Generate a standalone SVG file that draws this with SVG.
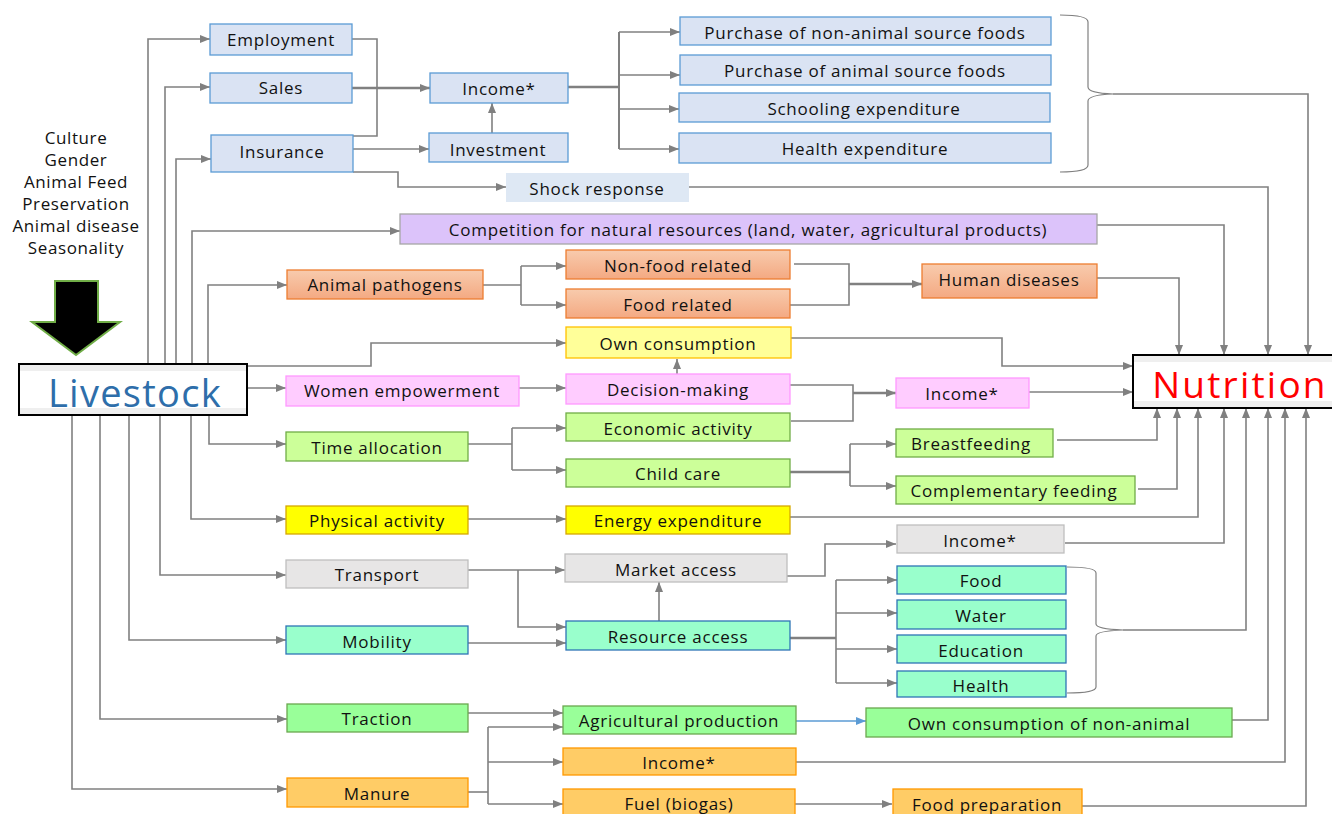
<svg xmlns="http://www.w3.org/2000/svg" width="1332" height="814" viewBox="0 0 1332 814">
<defs>
<marker id="ah" markerUnits="userSpaceOnUse" markerWidth="10" markerHeight="8" refX="10" refY="4" orient="auto"><path d="M0,0 L10,4 L0,8 z" fill="#808080"/></marker>
<marker id="ahb" markerUnits="userSpaceOnUse" markerWidth="10" markerHeight="8" refX="10" refY="4" orient="auto"><path d="M0,0 L10,4 L0,8 z" fill="#5B9BD5"/></marker>
<linearGradient id="salmon" x1="0" y1="0" x2="0" y2="1"><stop offset="0" stop-color="#F8CBAD"/><stop offset="1" stop-color="#F4A982"/></linearGradient>
</defs>
<style>
text{font-family:"Open Sans","Noto Sans","Liberation Sans",sans-serif;font-size:17px;letter-spacing:0.75px;fill:#111;text-anchor:middle}
.f{font-size:17px;letter-spacing:0.6px}
.c{fill:none;stroke:#808080;stroke-width:1.6}
.a{marker-end:url(#ah)}
.t{stroke-width:2.6}
.blue rect{fill:#DAE3F3;stroke:#5B9BD5;stroke-width:1.3}
.sal rect{fill:url(#salmon);stroke:#ED7D31;stroke-width:1.3}
.pink rect{fill:#FFCCFF;stroke:#FF99FF;stroke-width:1.3}
.lg rect{fill:#CCFF99;stroke:#70AD47;stroke-width:1.3}
.yel rect{fill:#FFFF00;stroke:#D6A800;stroke-width:1.3}
.gry rect{fill:#E7E6E6;stroke:#BFBFBF;stroke-width:1.3}
.aq rect{fill:#99FFCC;stroke:#2E75B6;stroke-width:1.3}
.gr rect{fill:#99FF99;stroke:#6AA84F;stroke-width:1.3}
.or rect{fill:#FFCC66;stroke:#FF9900;stroke-width:1.3}
.brace{fill:none;stroke:#808080;stroke-width:1.2}
</style>
<rect width="1332" height="814" fill="#ffffff"/>

<g id="factors">
<text class="f" x="76" y="144">Culture</text>
<text class="f" x="76" y="166">Gender</text>
<text class="f" x="76" y="188">Animal Feed</text>
<text class="f" x="76" y="210">Preservation</text>
<text class="f" x="76" y="232">Animal disease</text>
<text class="f" x="76" y="254">Seasonality</text>
</g>
<g id="bigarrow"><polygon points="55,281 98,281 98,322 120,322 76,355 32,322 55,322" fill="#000" stroke="#70AD47" stroke-width="2"/></g>

<g id="connectors">
<path class="c a" d="M148,364 V39 H210"/>
<path class="c a" d="M165,364 V87 H210"/>
<path class="c a" d="M176,364 V159 H211"/>
<path class="c a" d="M192,364 V231 H400"/>
<path class="c a" d="M208,364 V285 H287"/>
<path class="c a" d="M247,366 H371 V343 H566"/>
<path class="c a" d="M247,388 H286"/>
<path class="c a" d="M209,416 V444 H286"/>
<path class="c a" d="M191,416 V519 H286"/>
<path class="c a" d="M160,416 V575 H286"/>
<path class="c a" d="M129,416 V640 H286"/>
<path class="c a" d="M100,416 V719 H287"/>
<path class="c a" d="M72,416 V789 H287"/>

<path class="c" d="M352,39 H377 V136 H353"/>
<path class="c a t" d="M352,88 H430"/>
<path class="c a" d="M353,149 H429"/>
<path class="c a" d="M353,172 H398 V187 H506"/>
<path class="c a" d="M492,133 V103"/>
<path class="c t" d="M568,87 H619"/>
<path class="c" d="M619,32 V149" style="stroke-width:2"/>
<path class="c a" d="M619,32 H680"/>
<path class="c a" d="M619,75 H680"/>
<path class="c a" d="M619,109 H679"/>
<path class="c a" d="M619,149 H679"/>

<path class="brace" d="M1060,15 Q1088,15 1088,22 L1088,87 Q1088,93 1113,94 Q1088,95 1088,101 L1088,165 Q1088,172 1060,172"/>
<path class="c a" d="M1113,94 H1308 V355"/>
<path class="c a" d="M689,187 H1268 V355"/>
<path class="c a" d="M1097,225 H1224 V355"/>
<path class="c a" d="M1097,278 H1179 V355"/>

<path class="c" d="M483,285 H521"/>
<path class="c" d="M521,266 V305"/>
<path class="c a" d="M521,266 H566"/>
<path class="c a" d="M521,305 H566"/>
<path class="c" d="M794,264 H849 V305 H790"/>
<path class="c a t" d="M849,284 H922"/>

<path class="c a" d="M791,338 H1002 V366 H1133"/>
<path class="c a" d="M677,374 V359"/>
<path class="c a" d="M519,388 H566"/>
<path class="c" d="M790,385 H853 V421 H791"/>
<path class="c a t" d="M853,393 H896"/>
<path class="c a" d="M1029,392 H1133"/>

<path class="c" d="M468,444 H512"/>
<path class="c" d="M512,428 V470"/>
<path class="c a" d="M512,428 H566"/>
<path class="c a" d="M512,470 H566"/>
<path class="c t" d="M790,472 H850"/>
<path class="c" d="M850,444 V486"/>
<path class="c a" d="M850,444 H896"/>
<path class="c a" d="M850,486 H896"/>
<path class="c a" d="M1057,440 H1157 V408"/>
<path class="c a" d="M1138,489 H1177 V408"/>

<path class="c a" d="M468,519 H566"/>
<path class="c a" d="M790,517 H1198 V408"/>

<path class="c a" d="M468,570 H565"/>
<path class="c a" d="M518,570 V627 H566"/>
<path class="c a" d="M787,576 H825 V544 H896"/>
<path class="c a" d="M1065,543 H1224 V408"/>
<path class="c a" d="M659,621 V582"/>
<path class="c a" d="M468,643 H566"/>
<path class="c t" d="M790,638 H836"/>
<path class="c" d="M836,580 V683"/>
<path class="c a" d="M836,580 H897"/>
<path class="c a" d="M836,613 H897"/>
<path class="c a" d="M836,649 H897"/>
<path class="c a" d="M836,683 H897"/>
<path class="brace" d="M1067,567 Q1096,567 1096,573 L1096,624 Q1096,629 1123,630 Q1096,631 1096,636 L1096,687 Q1096,693 1067,693"/>
<path class="c a" d="M1123,630 H1246 V408"/>

<path class="c a" d="M468,713 H563"/>
<path d="M796,721 H866" fill="none" stroke="#5B9BD5" stroke-width="1.6" marker-end="url(#ahb)"/>
<path class="c a" d="M1232,720 H1268 V408"/>
<path class="c" d="M468,792 H488"/>
<path class="c" d="M488,727 V804"/>
<path class="c a" d="M488,727 H563"/>
<path class="c a" d="M488,762 H563"/>
<path class="c a" d="M488,804 H563"/>
<path class="c a" d="M796,762 H1285 V408"/>
<path class="c a" d="M795,804 H892"/>
<path class="c a" d="M1082,806 H1306 V408"/>
</g>

<g id="livestock">
<rect x="19" y="364" width="228" height="51" fill="#fff" stroke="#000" stroke-width="2"/>
<rect x="20" y="365" width="226" height="6" fill="#EFEFEF"/>
<rect x="20" y="408" width="226" height="6" fill="#EFEFEF"/>
<text x="135" y="407" style="font-size:38px;letter-spacing:1.3px;fill:#2E6EAA">Livestock</text>
</g>
<g id="nutrition">
<rect x="1133" y="355" width="210" height="53" fill="#fff" stroke="#000" stroke-width="2"/>
<rect x="1134" y="356" width="198" height="6" fill="#EFEFEF"/>
<rect x="1134" y="401" width="198" height="6" fill="#EFEFEF"/>
<text x="1240" y="398" style="font-size:37px;letter-spacing:2.2px;fill:#FF0000">Nutrition</text>
</g>

<g id="employment" class="blue"><rect x="210" y="24" width="142" height="31"/><text x="281" y="46">Employment</text></g>
<g id="sales" class="blue"><rect x="210" y="73" width="142" height="30"/><text x="281" y="94">Sales</text></g>
<g id="insurance" class="blue"><rect x="211" y="135" width="142" height="37"/><text x="282" y="158">Insurance</text></g>
<g id="income1" class="blue"><rect x="430" y="73" width="138" height="30"/><text x="499" y="95">Income*</text></g>
<g id="investment" class="blue"><rect x="429" y="133" width="139" height="29"/><text x="498" y="156">Investment</text></g>
<g id="shock"><rect x="506" y="173" width="183" height="29" fill="#DEE8F4"/><text x="597" y="195">Shock response</text></g>
<g id="purchase-non" class="blue"><rect x="680" y="17" width="371" height="28"/><text x="865" y="39">Purchase of non-animal source foods</text></g>
<g id="purchase-asf" class="blue"><rect x="680" y="55" width="371" height="30"/><text x="865" y="77">Purchase of animal source foods</text></g>
<g id="schooling" class="blue"><rect x="679" y="93" width="371" height="29"/><text x="864" y="115">Schooling expenditure</text></g>
<g id="health-exp" class="blue"><rect x="679" y="133" width="372" height="30"/><text x="865" y="155">Health expenditure</text></g>

<g id="competition"><rect x="400" y="214" width="697" height="30" fill="#DCC3FA" stroke="#A6A6A6" stroke-width="1.3"/><text x="748" y="236">Competition for natural resources (land, water, agricultural products)</text></g>

<g id="pathogens" class="sal"><rect x="287" y="270" width="196" height="29"/><text x="385" y="291">Animal pathogens</text></g>
<g id="nonfood" class="sal"><rect x="566" y="250" width="224" height="29"/><text x="678" y="272">Non-food related</text></g>
<g id="foodrel" class="sal"><rect x="566" y="289" width="224" height="29"/><text x="678" y="311">Food related</text></g>
<g id="human" class="sal"><rect x="922" y="264" width="175" height="34"/><text x="1009" y="286">Human diseases</text></g>

<g id="owncons"><rect x="566" y="327" width="225" height="31" fill="#FFFF99" stroke="#FFC000" stroke-width="1.3"/><text x="678" y="350">Own consumption</text></g>
<g id="women" class="pink"><rect x="286" y="376" width="233" height="30"/><text x="402" y="397">Women empowerment</text></g>
<g id="decision" class="pink"><rect x="566" y="374" width="224" height="30"/><text x="678" y="396">Decision-making</text></g>
<g id="income-pink" class="pink"><rect x="896" y="378" width="133" height="30"/><text x="962" y="400">Income*</text></g>

<g id="time" class="lg"><rect x="286" y="432" width="182" height="29"/><text x="377" y="454">Time allocation</text></g>
<g id="economic" class="lg"><rect x="566" y="413" width="224" height="28"/><text x="678" y="435">Economic activity</text></g>
<g id="childcare" class="lg"><rect x="566" y="459" width="224" height="28"/><text x="678" y="480">Child care</text></g>
<g id="breast" class="lg"><rect x="896" y="429" width="157" height="28"/><text x="971" y="450">Breastfeeding</text></g>
<g id="complementary" class="lg"><rect x="896" y="476" width="239" height="28"/><text x="1014" y="497">Complementary feeding</text></g>

<g id="physical" class="yel"><rect x="286" y="506" width="182" height="28"/><text x="377" y="527">Physical activity</text></g>
<g id="energy" class="yel"><rect x="566" y="506" width="224" height="28"/><text x="678" y="527">Energy expenditure</text></g>

<g id="transport" class="gry"><rect x="286" y="560" width="182" height="28"/><text x="377" y="581">Transport</text></g>
<g id="market" class="gry"><rect x="565" y="554" width="222" height="28"/><text x="676" y="576">Market access</text></g>
<g id="income-gray" class="gry"><rect x="897" y="525" width="167" height="28"/><text x="980" y="547">Income*</text></g>

<g id="mobility" class="aq"><rect x="286" y="626" width="182" height="28"/><text x="377" y="648">Mobility</text></g>
<g id="resource" class="aq"><rect x="566" y="621" width="224" height="29"/><text x="678" y="643">Resource access</text></g>
<g id="food" class="aq"><rect x="897" y="566" width="169" height="28"/><text x="981" y="587">Food</text></g>
<g id="water" class="aq"><rect x="897" y="600" width="169" height="29"/><text x="981" y="622">Water</text></g>
<g id="education" class="aq"><rect x="897" y="635" width="169" height="28"/><text x="981" y="657">Education</text></g>
<g id="health" class="aq"><rect x="897" y="671" width="169" height="26"/><text x="981" y="692">Health</text></g>

<g id="traction" class="gr"><rect x="287" y="704" width="181" height="28"/><text x="377" y="725">Traction</text></g>
<g id="agri" class="gr"><rect x="563" y="706" width="233" height="28"/><text x="679" y="727">Agricultural production</text></g>
<g id="own-nonanimal" class="gr"><rect x="866" y="708" width="366" height="29"/><text x="1049" y="730">Own consumption of non-animal</text></g>

<g id="manure" class="or"><rect x="287" y="778" width="181" height="29"/><text x="377" y="800">Manure</text></g>
<g id="income-orange" class="or"><rect x="563" y="748" width="233" height="27"/><text x="679" y="769">Income*</text></g>
<g id="fuel" class="or"><rect x="563" y="789" width="232" height="30"/><text x="679" y="810">Fuel (biogas)</text></g>
<g id="foodprep" class="or"><rect x="893" y="789" width="189" height="30"/><text x="987" y="811">Food preparation</text></g>
</svg>
